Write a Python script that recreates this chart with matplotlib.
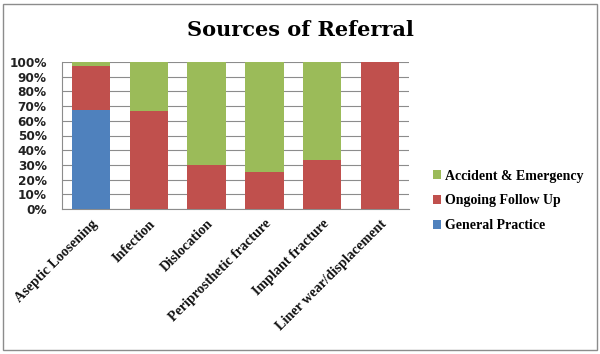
import matplotlib
matplotlib.use("Agg")
import matplotlib.pyplot as plt
from matplotlib.patches import Rectangle
from matplotlib.ticker import PercentFormatter

categories = ["Aseptic Loosening", "Infection", "Dislocation",
              "Periprosthetic fracture", "Implant fracture", "Liner wear/displacement"]
general_practice = [67.5, 0, 0, 0, 0, 0]
ongoing_follow_up = [29.5, 66.7, 30, 25, 33.3, 100]
accident_emergency = [3, 33.3, 70, 75, 66.7, 0]

c_gp, c_ofu, c_ae = "#4F81BD", "#C0504D", "#9BBB59"

fig = plt.figure(figsize=(6, 3.54), dpi=100)
ax = fig.add_axes([62/600, 1-209/354, (409-62)/600, (209-62)/354])

x = range(len(categories))
w = 0.66
b1 = ax.bar(x, general_practice, w, color=c_gp, label="General Practice", zorder=3)
b2 = ax.bar(x, ongoing_follow_up, w, bottom=general_practice, color=c_ofu,
            label="Ongoing Follow Up", zorder=3)
bot = [a + b for a, b in zip(general_practice, ongoing_follow_up)]
b3 = ax.bar(x, accident_emergency, w, bottom=bot, color=c_ae,
            label="Accident & Emergency", zorder=3)

ax.set_xlim(-0.5, len(categories) - 0.5)
ax.set_ylim(0, 100)
ax.set_yticks(range(0, 101, 10))
ax.yaxis.set_major_formatter(PercentFormatter(decimals=0))
ax.grid(axis="y", color="#8c8c8c", linewidth=0.8, zorder=0)
for s in ["top", "right"]:
    ax.spines[s].set_visible(False)
for s in ["left", "bottom"]:
    ax.spines[s].set_color("#8c8c8c")
ax.tick_params(axis="y", length=0, pad=11, labelsize=8.7)
ax.tick_params(axis="x", length=0, pad=6)
for t in ax.get_yticklabels():
    t.set_fontweight("bold")
    t.set_family("DejaVu Sans")
    t.set_color("#222222")
ax.set_xticks(list(x))
ax.set_xticklabels(categories, rotation=45, ha="right", rotation_mode="anchor",
                   family="Liberation Serif", fontweight="bold", fontsize=10.2,
                   color="#111111")

fig.text(0.5, 1 - 30/354, "Sources of Referral", ha="center", va="center",
         family="DejaVu Serif", fontweight="bold", fontsize=15)

leg = fig.legend(handles=[b3, b2, b1], loc="upper left",
                 bbox_to_anchor=(420/600, 1 - 157/354), frameon=False,
                 prop={"family": "Liberation Serif", "weight": "bold", "size": 10},
                 handlelength=0.6, handleheight=0.6, handletextpad=0.3,
                 labelspacing=0.85)

fig.patches.append(Rectangle((3/600, 4/354), 594/600, 346/354, transform=fig.transFigure,
                             fill=False, edgecolor="#8c8c8c", linewidth=1))

fig.savefig("out.png", dpi=100)
